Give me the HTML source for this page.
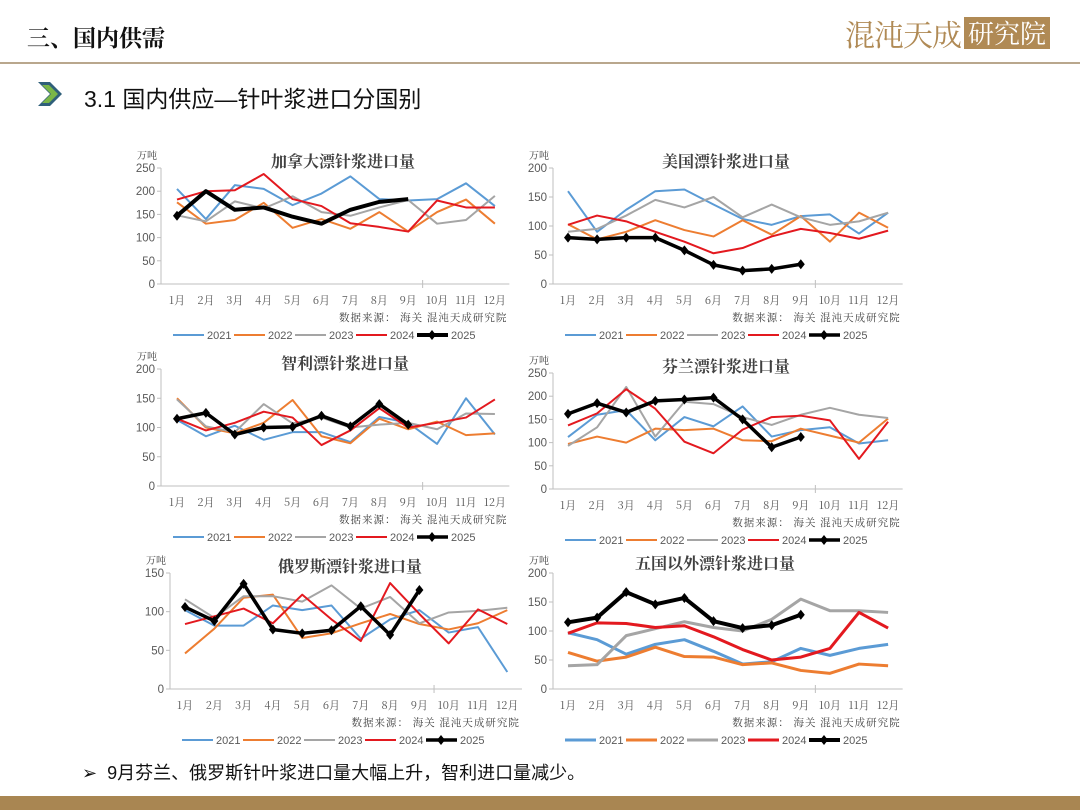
<!DOCTYPE html>
<html><head><meta charset="utf-8">
<style>
html,body{margin:0;padding:0;background:#fff;}
#page{position:relative;width:1080px;height:810px;overflow:hidden;background:#fff;font-family:"Liberation Sans","Noto Sans CJK SC",sans-serif;}
.abs{position:absolute;}
</style></head>
<body>
<div id="page">
  <div class="abs" style="left:27px;top:20px;font-size:23px;font-weight:bold;color:#111;font-family:'Liberation Sans','Noto Serif CJK SC',serif;">三、国内供需</div>
  <div class="abs" style="left:845px;top:14px;height:38px;display:flex;align-items:center;">
    <span style="font-size:30px;color:#b08a55;font-family:'Noto Serif CJK SC',serif;letter-spacing:-1px;">混沌天成</span>
    <span style="margin-left:3px;background:#b08a55;color:#fff;font-size:26px;padding:0 4px;font-family:'Noto Serif CJK SC',serif;line-height:32px;">研究院</span>
  </div>
  <div class="abs" style="left:0;top:62px;width:1080px;height:2px;background:#b9a78d;"></div>
  <svg class="abs" style="left:36px;top:80px" width="30" height="28">
    <polygon points="2,2 14,2 26,14 14,26 2,26 14,14" fill="#2f5f7a"/>
    <polygon points="6,5 13,5 22,14 13,23 6,23 15,14" fill="#7ab648"/>
  </svg>
  <div class="abs" style="left:84px;top:80px;font-size:23px;color:#111;">3.1 国内供应—针叶浆进口分国别</div>
  <svg id="charts" class="abs" style="left:0;top:0" width="1080" height="810"></svg>
  <div class="abs" style="left:82px;top:759px;font-size:18px;color:#111;">➢&nbsp; 9月芬兰、俄罗斯针叶浆进口量大幅上升，智利进口量减少。</div>
  <div class="abs" style="left:0;top:796px;width:1080px;height:14px;background:#a98652;"></div>
</div>
<script>
const months = ["1月","2月","3月","4月","5月","6月","7月","8月","9月","10月","11月","12月"];
const years = ["2021","2022","2023","2024","2025"];
// Canada
const canada2021 = [205,140,213,205,170,195,232,183,180,183,217,168];
const canada2022 = [176,130,138,175,121,140,119,155,113,155,182,130];
const canada2023 = [148,135,178,163,189,155,147,165,181,130,138,190];
const canada2024 = [182,200,202,237,183,168,131,123,113,180,165,165];
const canada2025 = [147,200,160,165,145,130,160,177,183];
// USA
const usa2021 = [160,90,128,160,163,137,112,102,117,120,87,123];
const usa2022 = [103,77,90,110,93,82,110,85,117,73,123,97];
const usa2023 = [90,95,118,145,132,150,115,137,115,102,108,123];
const usa2024 = [102,118,108,90,73,53,62,82,95,88,78,92];
const usa2025 = [80,77,80,80,58,33,23,26,34];
// Chile
const chile2021 = [113,85,103,79,92,92,75,118,108,72,150,88];
const chile2022 = [150,100,90,108,147,85,73,115,97,110,87,90];
const chile2023 = [148,102,92,140,107,117,100,105,108,97,124,123];
const chile2024 = [115,95,108,127,117,70,95,133,100,108,117,148];
const chile2025 = [115,125,88,100,101,120,102,140,105];
// Finland
const finland2021 = [112,160,170,105,155,135,178,113,127,133,98,105];
const finland2022 = [97,113,100,130,127,130,105,103,130,115,100,152];
const finland2023 = [93,133,220,113,188,183,155,138,160,175,160,153];
const finland2024 = [137,163,215,173,102,77,128,155,158,148,65,145];
const finland2025 = [162,185,165,190,193,197,150,90,112];
// Russia
const russia2021 = [102,82,82,108,102,108,65,90,102,73,80,22];
const russia2022 = [46,78,118,122,66,72,85,97,84,77,85,102];
const russia2023 = [116,92,120,120,113,134,104,119,85,99,101,105];
const russia2024 = [84,94,104,85,122,90,62,137,97,59,103,84];
const russia2025 = [106,88,136,77,72,76,107,70,128];
// Others
const others2021 = [97,85,60,77,85,65,43,47,70,58,70,77];
const others2022 = [63,48,55,72,56,55,42,45,32,27,43,40];
const others2023 = [40,42,92,104,116,106,100,120,155,135,135,132];
const others2024 = [96,114,113,106,109,90,68,50,55,70,132,105];
const others2025 = [115,123,167,146,157,117,105,110,128];

const colors = ["#5b9bd5","#ed7d31","#a5a5a5","#e3191f","#000000"];
const NS = "http://www.w3.org/2000/svg";
const svg = document.getElementById("charts");

function mk(tag, attrs, parent){
  const e = document.createElementNS(NS, tag);
  for (const k in attrs) e.setAttribute(k, attrs[k]);
  (parent||svg).appendChild(e);
  return e;
}

const charts = [
  {name:"canada", title:"加拿大漂针浆进口量", series:[canada2021,canada2022,canada2023,canada2024,canada2025], ax:161, x1:177, step:28.9, y0:284, yt:168, max:250, tick:50, tx:343, ty:167, lw:2, blw:4, markers:false},
  {name:"usa", title:"美国漂针浆进口量", series:[usa2021,usa2022,usa2023,usa2024,usa2025], ax:553, x1:568, step:29.1, y0:284, yt:168, max:200, tick:50, tx:726, ty:167, lw:2, blw:3.5, markers:true},
  {name:"chile", title:"智利漂针浆进口量", series:[chile2021,chile2022,chile2023,chile2024,chile2025], ax:161, x1:177, step:28.9, y0:486, yt:369, max:200, tick:50, tx:345, ty:369, lw:2, blw:3.5, markers:true},
  {name:"finland", title:"芬兰漂针浆进口量", series:[finland2021,finland2022,finland2023,finland2024,finland2025], ax:553, x1:568, step:29.1, y0:489, yt:373, max:250, tick:50, tx:726, ty:372, lw:2, blw:3.5, markers:true},
  {name:"russia", title:"俄罗斯漂针浆进口量", series:[russia2021,russia2022,russia2023,russia2024,russia2025], ax:170, x1:185, step:29.3, y0:689, yt:573, max:150, tick:50, tx:350, ty:572, lw:2, blw:3.5, markers:true},
  {name:"others", title:"五国以外漂针浆进口量", series:[others2021,others2022,others2023,others2024,others2025], ax:553, x1:568, step:29.1, y0:689, yt:573, max:200, tick:50, tx:715, ty:569, lw:3, blw:4, markers:true}
];

charts.forEach(c => {
  const g = mk("g", {});
  
  
  const xScale = i => c.x1 + i * c.step;
  const yScale = v => c.y0 - (v / c.max) * (c.y0 - c.yt);
  const xEnd = c.x1 + 11.5 * c.step;
  const t = mk("text", {x:c.tx, y:c.ty, "text-anchor":"middle", "font-size":"16", "font-weight":"bold", fill:"#404040", "font-family":"'Noto Serif CJK SC',serif"}, g);
  t.textContent = c.title;
  
  
  const u = mk("text", {x:c.ax-24, y:c.yt-9, "font-size":"10", fill:"#404040", "font-family":"'Noto Serif CJK SC',serif"}, g);
  u.textContent = "万吨";
  
  
  const ya = mk("line", {x1:c.ax, y1:c.yt, x2:c.ax, y2:c.y0, stroke:"#bfbfbf", "stroke-width":1}, g);
  
  
  const xa = mk("line", {x1:c.ax-4, y1:c.y0, x2:xEnd, y2:c.y0, stroke:"#bfbfbf", "stroke-width":1}, g);
  
  
  const bt = mk("line", {x1:xScale(8.5), y1:c.y0-4, x2:xScale(8.5), y2:c.y0+4, stroke:"#bfbfbf"}, g);
  
  
  for (let v = 0; v <= c.max; v += c.tick) {
    const tl = mk("text", {x:c.ax-6, y:yScale(v)+4, "text-anchor":"end", "font-size":"11.5", fill:"#595959"}, g);
    tl.textContent = v;
    
    
    const tk = mk("line", {x1:c.ax-4, y1:yScale(v), x2:c.ax, y2:yScale(v), stroke:"#bfbfbf"}, g);
    
    
  }
  months.forEach((m, i) => {
    const ml = mk("text", {x:xScale(i), y:c.y0+20, "text-anchor":"middle", "font-size":"11", fill:"#595959", "font-family":"'Noto Serif CJK SC',serif"}, g);
    ml.textContent = m;
    
    
  });
  const src = mk("text", {x:xEnd-2, y:c.y0+37, "text-anchor":"end", "font-size":"10.5", fill:"#404040", "font-family":"'Noto Serif CJK SC',serif", "letter-spacing":"1"}, g);
  src.textContent = "数据来源： 海关  混沌天成研究院";
  
  
  c.series.forEach((s, si) => {
    const pts = s.map((v, i) => xScale(i) + "," + yScale(v)).join(" ");
    const isLast = si === 4;
    const pl = mk("polyline", {points:pts, fill:"none", stroke:colors[si], "stroke-width": isLast ? c.blw : c.lw, "stroke-linejoin":"round"}, g);
    
    
    if (isLast) {
      s.forEach((v, i) => {
        if (!c.markers && i > 0) return;
        const x = xScale(i), y = yScale(v);
        const d = mk("polygon", {points:`${x},${y-5} ${x+4},${y} ${x},${y+5} ${x-4},${y}`, fill:"#000"}, g);
        
        
      });
    }
  });
  const ly = c.y0 + 51;
  const lx0 = c.ax + 12;
  years.forEach((yr, si) => {
    const lx = lx0 + si * 61;
    const lg = mk("g", {}, g);
    
    
    mk("line", {x1:lx, y1:ly, x2:lx+31, y2:ly, stroke:colors[si], "stroke-width": si===4 ? c.blw : c.lw}, lg);
    if (si === 4) mk("polygon", {points:`${lx+15},${ly-5} ${lx+19},${ly} ${lx+15},${ly+5} ${lx+11},${ly}`, fill:"#000"}, lg);
    const lt = mk("text", {x:lx+34, y:ly+4, "font-size":"11", fill:"#595959"}, lg);
    lt.textContent = yr;
  });
});
</script>
</body></html>
